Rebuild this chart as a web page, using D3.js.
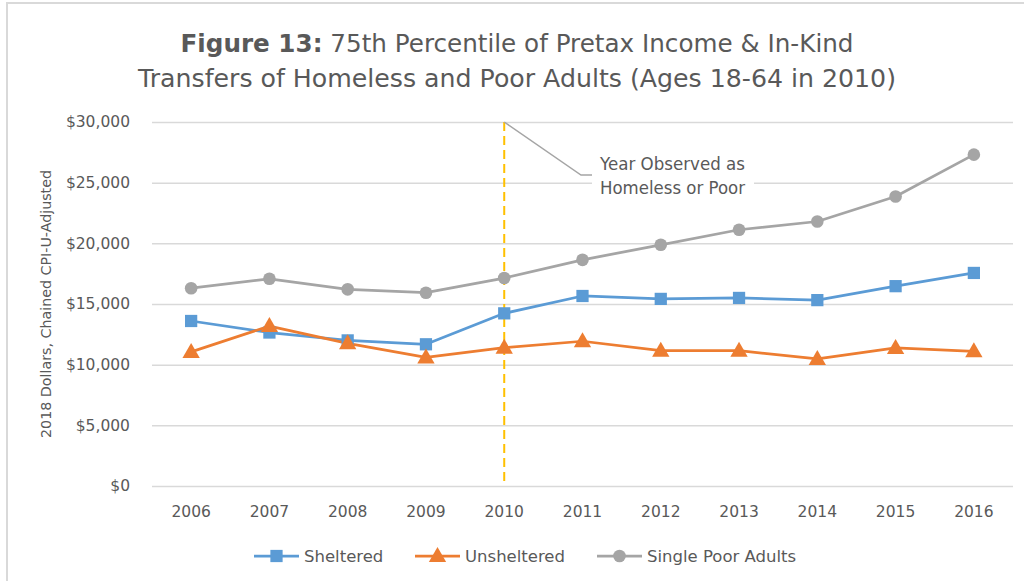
<!DOCTYPE html>
<html>
<head>
<meta charset="utf-8">
<script src="https://cdn.jsdelivr.net/npm/d3@7"></script>
<style>
  html, body { margin: 0; padding: 0; background: #fff; }
  svg { display: block; }
  text { font-family: "DejaVu Sans", sans-serif; fill: #595959; }
</style>
</head>
<body>
<svg id="chart" width="1024" height="581"></svg>
<script>
// Data
const years = ["2006","2007","2008","2009","2010","2011","2012","2013","2014","2015","2016"];
const sheltered   = [13600, 12650, 12000, 11680, 14230, 15660, 15420, 15500, 15320, 16470, 17560];
const unsheltered = [11050, 13180, 11760, 10600, 11400, 11930, 11150, 11150, 10470, 11380, 11100];
const singlePoor  = [16300, 17080, 16210, 15930, 17140, 18640, 19880, 21120, 21800, 23860, 27310];
const yTicks = [0, 5000, 10000, 15000, 20000, 25000, 30000];
const seriesNames = ["Sheltered", "Unsheltered", "Single Poor Adults"];
const markYear = "2010";
const markLabel = ["Year Observed as", "Homeless or Poor"];
const titleLines = [["Figure 13:", " 75th Percentile of Pretax Income & In-Kind"],
                    ["", "Transfers of Homeless and Poor Adults (Ages 18-64 in 2010)"]];
const yAxisTitle = "2018 Dollars, Chained CPI-U-Adjusted";

const colors = ["#5B9BD5", "#ED7D31", "#A5A5A5"];
const shapes = [d3.symbolSquare, d3.symbolTriangle, d3.symbolCircle];
const shapeSizes = [150, 130, 125];

const svg = d3.select("#chart");

// Outer frame
svg.append("path")
  .attr("d", "M7,1100 L7,3 L1100,3")
  .attr("fill", "none").attr("stroke", "#D9D9D9").attr("stroke-width", 2);

const plot = { left: 152, right: 1013, top: 122, bottom: 486 };

const x = d3.scaleBand().domain(years).range([plot.left, plot.right]);
const y = d3.scaleLinear().domain([0, 30000]).range([plot.bottom, plot.top]);
const cx = d => x(d) + x.bandwidth() / 2;

// Title
const title = svg.append("g");
titleLines.forEach((parts, i) => {
  const t = title.append("text")
    .attr("x", 517).attr("y", i === 0 ? 52 : 87)
    .attr("text-anchor", "middle")
    .attr("font-size", 25.5)
    .attr("textLength", i === 0 ? 673 : 758)
    .attr("lengthAdjust", "spacingAndGlyphs");
  if (parts[0]) t.append("tspan").attr("font-weight", "bold").text(parts[0]);
  t.append("tspan").text(parts[1]);
});

// Gridlines and y-axis labels
const yAxis = d3.axisLeft(y).tickValues(yTicks)
  .tickSize(-(plot.right - plot.left)).tickPadding(22)
  .tickFormat(d => "$" + d3.format(",")(d));
const gy = svg.append("g").attr("transform", `translate(${plot.left},0)`).call(yAxis);
gy.select(".domain").remove();
gy.selectAll(".tick line").attr("stroke", "#D9D9D9").attr("stroke-width", 1.5);
gy.selectAll(".tick text").attr("font-size", 15.5).attr("fill", "#595959")
  .attr("font-family", "DejaVu Sans, sans-serif");

// X-axis labels
const xAxis = d3.axisBottom(x).tickSize(0).tickPadding(20);
const gx = svg.append("g").attr("transform", `translate(0,${plot.bottom})`).call(xAxis);
gx.select(".domain").remove();
gx.selectAll(".tick text").attr("font-size", 15.5).attr("fill", "#595959")
  .attr("font-family", "DejaVu Sans, sans-serif");

// Y-axis title
svg.append("text")
  .attr("transform", "translate(51,304) rotate(-90)")
  .attr("text-anchor", "middle")
  .attr("font-size", 14)
  .attr("textLength", 268).attr("lengthAdjust", "spacingAndGlyphs")
  .text(yAxisTitle);

// Vertical marker for the observation year
svg.append("line")
  .attr("x1", cx(markYear)).attr("x2", cx(markYear))
  .attr("y1", y(30000)).attr("y2", y(0))
  .attr("stroke", "#FFC000").attr("stroke-width", 2)
  .attr("stroke-dasharray", "9,5");

// Callout label
svg.append("rect")
  .attr("x", 592).attr("y", 148).attr("width", 162).attr("height", 54)
  .attr("fill", "#fff");
svg.append("path")
  .attr("d", `M${cx(markYear)},${y(30000)} L581,175 L592,175`)
  .attr("fill", "none").attr("stroke", "#A5A5A5").attr("stroke-width", 1.5);
markLabel.forEach((s, i) => {
  svg.append("text")
    .attr("x", 600).attr("y", 170 + i * 24)
    .attr("font-size", 17)
    .attr("textLength", 145).attr("lengthAdjust", "spacingAndGlyphs")
    .text(s);
});

// Series lines and markers
const allSeries = [sheltered, unsheltered, singlePoor];
const line = d3.line().x((d, i) => cx(years[i])).y(d => y(d));

allSeries.forEach((vals, s) => {
  svg.append("path")
    .datum(vals)
    .attr("d", line)
    .attr("fill", "none")
    .attr("stroke", colors[s])
    .attr("stroke-width", 2.75)
    .attr("stroke-linejoin", "round");
});
allSeries.forEach((vals, s) => {
  const sym = d3.symbol().type(shapes[s]).size(shapeSizes[s]);
  svg.append("g").selectAll("path")
    .data(vals)
    .join("path")
    .attr("transform", (d, i) => `translate(${cx(years[i])},${y(d) + (s === 1 ? 1 : 0)})`)
    .attr("d", sym)
    .attr("fill", colors[s]);
});

// Legend
const legendItems = [
  { x: 254, textX: 304 },
  { x: 415, textX: 465 },
  { x: 597, textX: 647 }
];
const legendY = 556;
legendItems.forEach((it, s) => {
  const g = svg.append("g");
  g.append("line")
    .attr("x1", it.x).attr("x2", it.x + 45)
    .attr("y1", legendY).attr("y2", legendY)
    .attr("stroke", colors[s]).attr("stroke-width", 2.75);
  g.append("path")
    .attr("transform", `translate(${it.x + 22.5},${legendY + (s === 1 ? 1 : 0)})`)
    .attr("d", d3.symbol().type(shapes[s]).size(shapeSizes[s]))
    .attr("fill", colors[s]);
  g.append("text")
    .attr("x", it.textX).attr("y", legendY)
    .attr("dy", "0.35em")
    .attr("font-size", 16.5)
    .text(seriesNames[s]);
});
</script>
</body>
</html>
